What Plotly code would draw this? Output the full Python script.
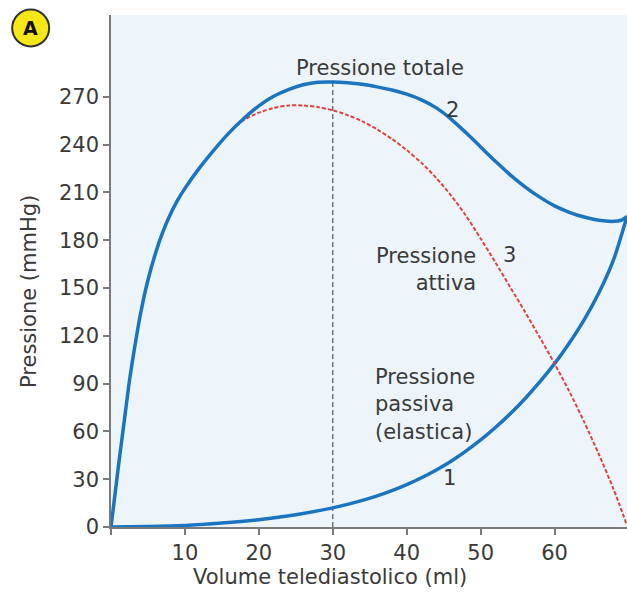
import plotly.graph_objects as go

# ---- data ----
vol_totale = [0, 0.5, 1, 1.5, 2, 2.5, 3, 3.5, 4, 5, 6, 7, 8, 9, 10, 12, 14, 16, 18, 20, 22, 24,
              26, 28, 30, 32, 34, 36, 38, 40, 42, 44, 46, 48, 50, 52, 54, 56, 58, 60, 62, 64, 66,
              68, 69, 69.8]
p_totale = [0, 19, 38, 56, 74, 92, 107, 121, 134, 155, 171.5, 185, 196, 205, 212.5, 225.5, 237,
            247.5, 256.5, 264.3, 270.3, 274.5, 277.5, 279.1, 279.3, 278.8, 277.8, 276.2, 274.2,
            271.6, 268, 263, 256, 247.5, 238.5, 229.5, 221, 213.5, 207, 201.5, 197.5, 194.5,
            192.5, 191.8, 192.5, 195]

vol_attiva = [17, 18, 20, 22, 24, 26, 28, 30, 32, 34, 36, 38, 40, 42, 44, 46, 48, 50, 52, 54, 56,
              58, 60, 62, 64, 66, 68, 69.8]
p_attiva = [252, 255.5, 260, 263, 264.5, 264.5, 263.5, 261.5, 258.5, 254.5, 249.5, 243.5, 236.5,
            228.5, 219, 208, 195.5, 181, 166, 150.5, 135, 119, 102.5, 85, 66, 45.5, 23.5, 1]

vol_passiva = [0, 5, 10, 15, 20, 25, 30, 32, 34, 36, 38, 40, 42, 44, 46, 48, 50, 52, 54, 56, 58,
               60, 62, 64, 66, 68, 69.8]
p_passiva = [0, 0.3, 1, 2.5, 4.6, 7.7, 12, 14.2, 16.7, 19.5, 22.8, 26.6, 30.9, 35.8, 41.3, 47.6,
             54.6, 62.4, 71, 80.5, 91, 102.5, 115.5, 130, 147, 168, 195]

x_ticks = [0, 10, 20, 30, 40, 50, 60]
x_tick_labels = ["", "10", "20", "30", "40", "50", "60"]
y_ticks = [0, 30, 60, 90, 120, 150, 180, 210, 240, 270]
v_ref = 30  # dashed reference volume

FONT = "DejaVu Sans"
TXT = "#3a3a3a"
BLUE = "#1b74c0"
RED = "#e2423f"

fig = go.Figure()
fig.add_trace(go.Scatter(x=vol_passiva, y=p_passiva, mode="lines",
                         line=dict(color=BLUE, width=3.5, shape="spline", smoothing=0.8),
                         hoverinfo="skip"))
fig.add_trace(go.Scatter(x=vol_attiva, y=p_attiva, mode="lines",
                         line=dict(color=RED, width=2, dash="4px,2px", shape="spline", smoothing=0.8),
                         hoverinfo="skip"))
fig.add_trace(go.Scatter(x=vol_totale, y=p_totale, mode="lines",
                         line=dict(color=BLUE, width=3.5, shape="spline", smoothing=0.8),
                         hoverinfo="skip"))

# vertical dashed line at 30 ml
fig.add_shape(type="line", x0=v_ref, x1=v_ref, y0=0, y1=max(p_totale), xref="x", yref="y",
              line=dict(color="#555555", width=1.2, dash="5px,3px"), layer="below")

ann_font = dict(family=FONT, size=21, color=TXT)
annots = [
    dict(x=36.4, y=288, text="Pressione totale", xanchor="center", yanchor="middle"),
    dict(x=46.2, y=261.6, text="2", xanchor="center", yanchor="middle"),
    dict(x=49.6, y=161.5, text="Pressione<br>attiva", xanchor="right", yanchor="middle", align="right"),
    dict(x=53.9, y=170.7, text="3", xanchor="center", yanchor="middle"),
    dict(x=35.4, y=76.6, text="Pressione<br>passiva<br>(elastica)", xanchor="left", yanchor="middle", align="left"),
    dict(x=45.8, y=30.7, text="1", xanchor="center", yanchor="middle"),
]
for a in annots:
    fig.add_annotation(xref="x", yref="y", showarrow=False, font=ann_font, **a)

# axis titles
fig.add_annotation(xref="paper", yref="paper", x=0.4244, y=-0.0977, text="Volume telediastolico (ml)",
                   showarrow=False, font=ann_font, xanchor="center", yanchor="middle")
fig.add_annotation(xref="paper", yref="paper", x=-0.1589, y=0.459, text="Pressione (mmHg)",
                   textangle=-90, showarrow=False, font=ann_font, xanchor="center", yanchor="middle")

# panel label "A"
fig.add_shape(type="circle", xref="paper", yref="paper",
              x0=-0.1915, x1=-0.1198, y0=0.9385, y1=1.0107,
              fillcolor="#f6e716", line=dict(color="#333333", width=2))
fig.add_annotation(xref="paper", yref="paper", x=-0.1556, y=0.9746, text="<b>A</b>",
                   showarrow=False, font=dict(family=FONT, size=19, color="#111111"),
                   xanchor="center", yanchor="middle")

axis_common = dict(showgrid=False, zeroline=False, showline=True, linecolor="#7a7a7a", linewidth=1.5,
                   ticks="outside", ticklen=6, tickwidth=1.5, tickcolor="#7a7a7a",
                   tickfont=dict(family=FONT, size=21, color=TXT), fixedrange=True)

fig.update_layout(
    width=627, height=593,
    margin=dict(l=111, r=0, t=15, b=66),
    paper_bgcolor="white", plot_bgcolor="#edf5fb",
    showlegend=False,
    xaxis=dict(range=[0, 69.8], tickvals=x_ticks, ticktext=x_tick_labels, **axis_common),
    yaxis=dict(range=[0, 321.3], tickvals=y_ticks, **axis_common),
)

fig.write_html("out.html")
